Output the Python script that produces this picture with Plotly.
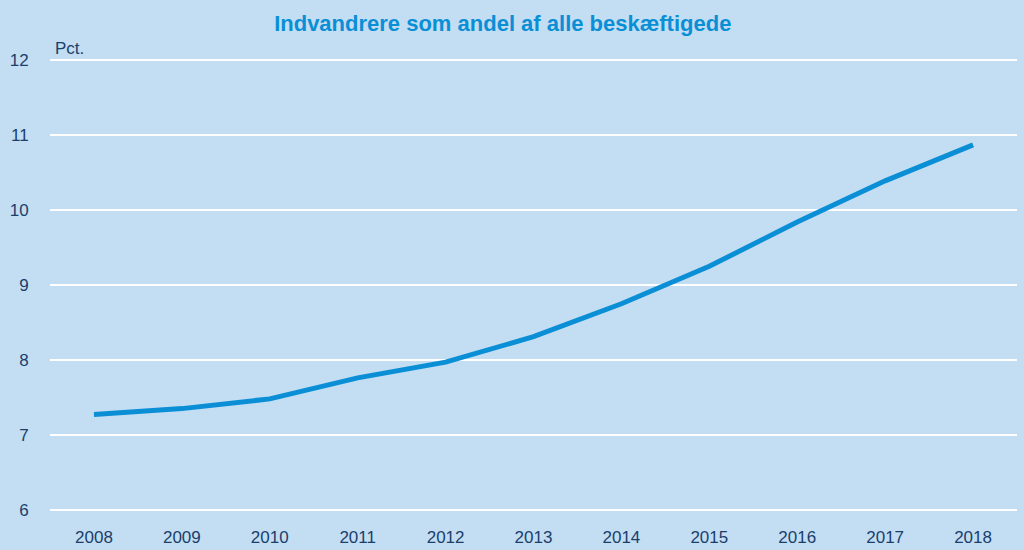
import plotly.graph_objects as go

years = ["2008", "2009", "2010", "2011", "2012", "2013", "2014", "2015", "2016", "2017", "2018"]
andel = [7.27, 7.35, 7.48, 7.76, 7.97, 8.31, 8.75, 9.25, 9.84, 10.39, 10.87]
y_ticks = [6, 7, 8, 9, 10, 11, 12]

bg = "#C3DDF3"
line_col = "#0A8FD6"
text_col = "#1A3F6B"

fig = go.Figure()
fig.add_trace(go.Scatter(x=years, y=andel, mode="lines",
                         line=dict(color=line_col, width=5)))

fig.update_layout(
    width=1024, height=550,
    paper_bgcolor=bg, plot_bgcolor=bg,
    margin=dict(l=50, r=7, t=58, b=38, autoexpand=False),
    showlegend=False,
    title=dict(text="<b>Indvandrere som andel af alle beskæftigede</b>",
               x=0.491, xanchor="center", y=0.958, yanchor="middle", automargin=False,
               font=dict(family="Liberation Sans Narrow, Arial Narrow, Arial", size=22, color=line_col)),
    font=dict(family="Liberation Sans, Arial", size=17, color=text_col),
)
fig.update_xaxes(type="category", range=[-0.5, 10.5], showgrid=False, showline=False,
                 automargin=False,
                 ticks="outside", ticklen=10, tickcolor=bg, tickfont=dict(size=17, color=text_col))
fig.update_yaxes(range=[5.97, 12.03], tickvals=y_ticks, showgrid=True, gridcolor="white",
                 gridwidth=1.5, zeroline=False, showline=False, ticks="outside", automargin=False,
                 ticklen=17, tickcolor=bg, tickfont=dict(size=17, color=text_col))
fig.add_annotation(text="Pct.", xref="paper", yref="paper", x=0.003, y=1.0,
                   xanchor="left", yanchor="bottom", showarrow=False, yshift=-2,
                   font=dict(family="Liberation Sans, Arial", size=17, color=text_col))

fig.write_html("out.html", config={"displayModeBar": False},
               post_script="document.body.style.margin='0';document.body.style.background='#C3DDF3';")
